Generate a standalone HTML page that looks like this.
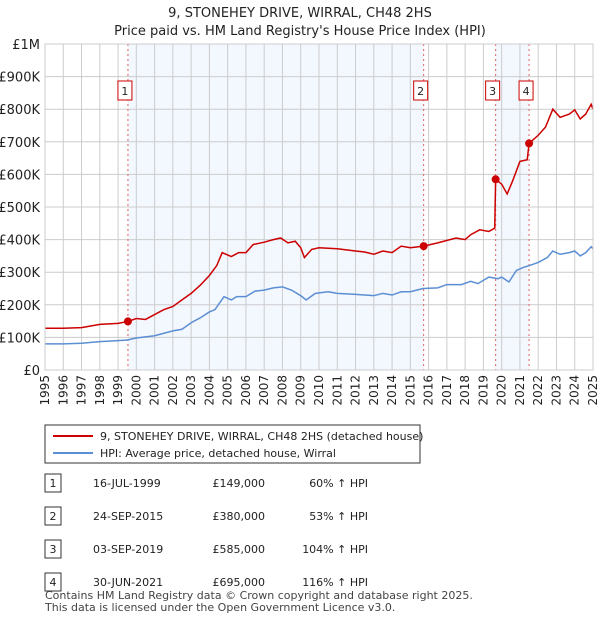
<!DOCTYPE html>
<html><head><meta charset="utf-8"><style>
body{margin:0;background:#fff;font-family:"DejaVu Sans","Liberation Sans",sans-serif;}
svg text{font-family:"DejaVu Sans","Liberation Sans",sans-serif;}
</style></head><body>
<svg id="c" width="600" height="620" xmlns="http://www.w3.org/2000/svg">
<text x="300" y="17" text-anchor="middle" font-size="13" fill="#222">9, STONEHEY DRIVE, WIRRAL, CH48 2HS</text>
<text x="300" y="35" text-anchor="middle" font-size="13" fill="#222">Price paid vs. HM Land Registry's House Price Index (HPI)</text>
<g id="plot"></g>
<rect x="45" y="425" width="375" height="38" fill="#fff" stroke="#333"/>
<line x1="53" y1="436" x2="93" y2="436" stroke="#cc0000" stroke-width="2"/>
<text x="100" y="440" font-size="11" fill="#222">9, STONEHEY DRIVE, WIRRAL, CH48 2HS (detached house)</text>
<line x1="53" y1="453" x2="93" y2="453" stroke="#5b8fd4" stroke-width="2"/>
<text x="100" y="457" font-size="11" fill="#222">HPI: Average price, detached house, Wirral</text>
<g id="tbl" font-size="11" fill="#222"></g>
<text x="45" y="599" font-size="11" fill="#444">Contains HM Land Registry data © Crown copyright and database right 2025.</text>
<text x="45" y="611" font-size="11" fill="#444">This data is licensed under the Open Government Licence v3.0.</text>
</svg>
<script>
const hpiYears=[1995,1996,1997,1998,1999,1999.5,2000,2001,2002,2002.5,2003,2003.5,2004,2004.3,2004.8,2005.2,2005.5,2006,2006.5,2007,2007.5,2008,2008.5,2009,2009.3,2009.8,2010.5,2011,2012,2012.5,2013,2013.5,2014,2014.5,2015,2015.7,2016.5,2017,2017.8,2018.3,2018.7,2019.3,2019.8,2020,2020.4,2020.8,2021.2,2021.5,2022,2022.5,2022.8,2023.2,2023.7,2024,2024.3,2024.6,2024.9,2025];
const hpiValues=[80,80,82,87,90,92,98,105,120,125,145,160,178,185,225,215,225,225,242,245,252,255,245,228,215,235,240,235,232,230,228,235,230,240,240,250,252,262,262,272,265,285,280,285,270,305,315,320,330,345,365,355,360,365,350,360,378,372];
const redYears=[1995,1996,1997,1998,1999,1999.54,2000,2000.5,2001,2001.5,2002,2002.5,2003,2003.5,2004,2004.4,2004.7,2005.2,2005.6,2006,2006.4,2007,2007.5,2007.9,2008.3,2008.7,2009,2009.2,2009.6,2010,2011,2012,2012.5,2013,2013.5,2014,2014.5,2015,2015.73,2016.5,2017.5,2018,2018.3,2018.8,2019.3,2019.62,2019.67,2020,2020.3,2020.6,2021,2021.4,2021.5,2022,2022.4,2022.8,2023.2,2023.7,2024,2024.3,2024.6,2024.9,2025];
const redValues=[128,128,130,140,143,149,158,155,170,185,195,215,235,260,290,320,360,348,360,360,385,392,400,405,390,395,375,345,370,375,372,365,362,355,365,360,380,375,380,390,405,400,415,430,425,435,585,570,540,580,640,645,695,720,745,800,775,785,798,770,785,815,800];
const saleLabels=["1","2","3","4"];
const saleYears=[1999.54,2015.73,2019.67,2021.5];
const salePrices=[149,380,585,695];
const saleDates=["16-JUL-1999","24-SEP-2015","03-SEP-2019","30-JUN-2021"];
const salePriceText=["£149,000","£380,000","£585,000","£695,000"];
const saleHpiText=["60% ↑ HPI","53% ↑ HPI","104% ↑ HPI","116% ↑ HPI"];
const yTicks=[0,100,200,300,400,500,600,700,800,900,1000];
const yTickLabels=["£0","£100K","£200K","£300K","£400K","£500K","£600K","£700K","£800K","£900K","£1M"];
const x0=45,x1=593,y0=370,y1=44;
const X=y=>x0+(y-1995)/30*(x1-x0);
const Y=v=>y0-v/1000*(y0-y1);
const NS="http://www.w3.org/2000/svg";
const plot=document.getElementById('plot');
function mk(tag,attrs,parent){const e=document.createElementNS(NS,tag);for(const k in attrs)e.setAttribute(k,attrs[k]);(parent||plot).appendChild(e);return e;}
let r=mk('rect',{x:x0,y:y1,width:x1-x0,height:y0-y1,fill:'#fff'});


[[0,1],[2,3]].forEach((p,i)=>{const s=mk('rect',{x:X(saleYears[p[0]]),y:y1,width:X(saleYears[p[1]])-X(saleYears[p[0]]),height:y0-y1,fill:'#eef3fd',opacity:0.7});

});
for(let yr=1995;yr<=2025;yr++){const l=mk('line',{x1:X(yr),x2:X(yr),y1:y1,y2:y0,stroke:'#ccc'});


const t=mk('text',{x:0,y:0,'font-size':12,fill:'#222','text-anchor':'end',transform:`translate(${X(yr)+4},375) rotate(-90)`});t.textContent=yr;

}
yTicks.forEach((v,i)=>{const l=mk('line',{x1:x0,x2:x1,y1:Y(v),y2:Y(v),stroke:'#ccc'});


const t=mk('text',{x:40,y:Y(v)+5,'font-size':13,fill:'#222','text-anchor':'end'});t.textContent=yTickLabels[i];

});
saleYears.forEach((yr,i)=>{const l=mk('line',{x1:X(yr),x2:X(yr),y1:y1,y2:y0,stroke:'#e06060','stroke-dasharray':'2,3'});


const b=mk('rect',{x:X(yr)-10,y:81,width:14,height:19,fill:'#fff',stroke:'#cc0000'});


const t=mk('text',{x:X(yr)-3,y:95,'font-size':11,'text-anchor':'middle',fill:'#222'});t.textContent=saleLabels[i];

});
let hp=mk('polyline',{points:hpiYears.map((y,i)=>X(y)+','+Y(hpiValues[i])).join(' '),fill:'none',stroke:'#5b8fd4','stroke-width':1.5});


let rp=mk('polyline',{points:redYears.map((y,i)=>X(y)+','+Y(redValues[i])).join(' '),fill:'none',stroke:'#cc0000','stroke-width':1.5});


saleYears.forEach((yr,i)=>{const c=mk('circle',{cx:X(yr),cy:Y(salePrices[i]),r:4,fill:'#cc0000'});

});
let bd=mk('rect',{x:x0,y:y1,width:x1-x0,height:y0-y1,fill:'none',stroke:'#ccc'});


const tbl=document.getElementById('tbl');
saleLabels.forEach((lb,i)=>{const yy=483+i*33;
const b=mk('rect',{x:45,y:yy-9,width:16,height:18,fill:'#fff',stroke:'#333'},tbl);


[[53,lb,'middle'],[93,saleDates[i],'start'],[265,salePriceText[i],'end'],[368,saleHpiText[i],'end']].forEach(([x,s,a],j)=>{
const t=mk('text',{x:x,y:yy+4,'text-anchor':a},tbl);t.textContent=s;

});});
</script>
</body></html>
